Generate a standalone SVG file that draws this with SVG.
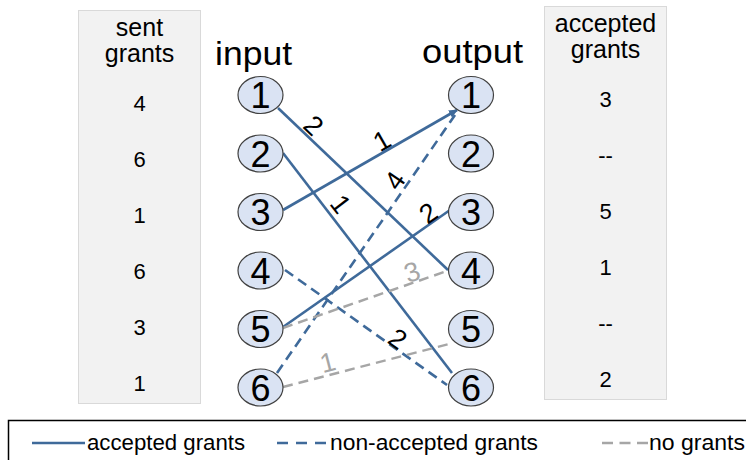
<svg xmlns="http://www.w3.org/2000/svg" width="746" height="460" viewBox="0 0 746 460">
<style>
.t{font-family:"Liberation Sans",Arial,sans-serif;fill:#000}
.panel{fill:#f2f2f2;stroke:#d9d9d9;stroke-width:1}
.node{fill:#dae3f3;stroke:#404040;stroke-width:1.2}
.num{font-size:36px;text-anchor:middle}
.pv{font-size:22px;text-anchor:middle}
.ph{font-size:25px;text-anchor:middle}
.acc{stroke:#3f6a9a;stroke-width:2.6;fill:none}
.non{stroke:#3f6a9a;stroke-width:2.6;fill:none;stroke-dasharray:10 6}
.no{stroke:#a6a6a6;stroke-width:2.4;fill:none;stroke-dasharray:10 6}
.lbl{font-size:27px;text-anchor:middle}
.lblg{font-size:27px;text-anchor:middle;fill:#a6a6a6}
.leg{font-size:22px}
</style>
<defs>
<marker id="arr" markerUnits="userSpaceOnUse" markerWidth="10" markerHeight="8" refX="8" refY="4" orient="auto">
<path d="M0,0 L9,4 L0,8 z" fill="#3f6a9a"/>
</marker>
</defs>

<g id="sent-panel">
<rect class="panel" x="78.5" y="10.5" width="122" height="393"/>
<text class="t ph" x="139.5" y="36">sent</text>
<text class="t ph" x="139.5" y="62">grants</text>
<text class="t pv" x="139.5" y="111">4</text>
<text class="t pv" x="139.5" y="167">6</text>
<text class="t pv" x="139.5" y="223">1</text>
<text class="t pv" x="139.5" y="279">6</text>
<text class="t pv" x="139.5" y="335">3</text>
<text class="t pv" x="139.5" y="391">1</text>
</g>

<g id="accepted-panel">
<rect class="panel" x="544.5" y="6.5" width="122" height="393"/>
<text class="t ph" x="605.5" y="32">accepted</text>
<text class="t ph" x="605.5" y="58">grants</text>
<text class="t pv" x="605.5" y="107">3</text>
<text class="t pv" x="605.5" y="163">--</text>
<text class="t pv" x="605.5" y="219">5</text>
<text class="t pv" x="605.5" y="275">1</text>
<text class="t pv" x="605.5" y="331">--</text>
<text class="t pv" x="605.5" y="387">2</text>
</g>

<text class="t" x="215" y="65" font-size="33" textLength="77" lengthAdjust="spacingAndGlyphs">input</text>
<text class="t" x="422" y="63" font-size="33" textLength="101" lengthAdjust="spacingAndGlyphs">output</text>

<g id="connectors">
<line class="acc" x1="278" y1="108" x2="448" y2="270"/>
<line class="acc" x1="283" y1="153" x2="452" y2="373"/>
<line class="acc" x1="283" y1="210" x2="457" y2="110" marker-end="url(#arr)"/>
<line class="acc" x1="283" y1="327" x2="450" y2="210"/>
<line class="non" x1="277" y1="373" x2="455" y2="115"/>
<line class="non" x1="285" y1="270" x2="447" y2="385"/>
<line class="no" x1="283" y1="328" x2="450" y2="270"/>
<line class="no" x1="283" y1="387" x2="453" y2="343"/>
<text class="t lbl" transform="translate(305.4,134.1) rotate(43.6)" y="-2.5">2</text>
<text class="t lbl" transform="translate(387.3,150.1) rotate(-29.9)" y="-1.6">1</text>
<text class="t lbl" transform="translate(329,213) rotate(52.5)" y="-5.6">1</text>
<text class="t lbl" transform="translate(405,187.6) rotate(-55.4)" y="-3.1">4</text>
<text class="t lbl" transform="translate(434.1,221.1) rotate(-35)" y="-0.6">2</text>
<text class="t lblg" transform="translate(415.4,282) rotate(-19.2)" y="-1.2">3</text>
<text class="t lbl" transform="translate(392.4,346.3) rotate(35.4)" y="0">2</text>
<text class="t lblg" transform="translate(330.8,374.6) rotate(-14.5)" y="-3.3">1</text>
</g>

<g id="in1"><ellipse class="node" cx="260.5" cy="95" rx="22.5" ry="18.5"/><text class="t num" x="260.5" y="108">1</text></g>
<g id="in2"><ellipse class="node" cx="260.5" cy="153.5" rx="22.5" ry="18.5"/><text class="t num" x="260.5" y="166.5">2</text></g>
<g id="in3"><ellipse class="node" cx="260.5" cy="212" rx="22.5" ry="18.5"/><text class="t num" x="260.5" y="225">3</text></g>
<g id="in4"><ellipse class="node" cx="260.5" cy="270.5" rx="22.5" ry="18.5"/><text class="t num" x="260.5" y="283.5">4</text></g>
<g id="in5"><ellipse class="node" cx="260.5" cy="329" rx="22.5" ry="18.5"/><text class="t num" x="260.5" y="342">5</text></g>
<g id="in6"><ellipse class="node" cx="260.5" cy="387.5" rx="22.5" ry="18.5"/><text class="t num" x="260.5" y="400.5">6</text></g>

<g id="out1"><ellipse class="node" cx="471" cy="95" rx="22.5" ry="18.5"/><text class="t num" x="471" y="108">1</text></g>
<g id="out2"><ellipse class="node" cx="471" cy="153.5" rx="22.5" ry="18.5"/><text class="t num" x="471" y="166.5">2</text></g>
<g id="out3"><ellipse class="node" cx="471" cy="212" rx="22.5" ry="18.5"/><text class="t num" x="471" y="225">3</text></g>
<g id="out4"><ellipse class="node" cx="471" cy="270.5" rx="22.5" ry="18.5"/><text class="t num" x="471" y="283.5">4</text></g>
<g id="out5"><ellipse class="node" cx="471" cy="329" rx="22.5" ry="18.5"/><text class="t num" x="471" y="342">5</text></g>
<g id="out6"><ellipse class="node" cx="471" cy="387.5" rx="22.5" ry="18.5"/><text class="t num" x="471" y="400.5">6</text></g>

<g id="legend">
<rect x="8.5" y="420.5" width="760" height="60" fill="#fff" stroke="#000" stroke-width="1.5"/>
<line class="acc" x1="32" y1="443" x2="85" y2="443"/>
<text class="t leg" x="87" y="450" textLength="158" lengthAdjust="spacingAndGlyphs">accepted grants</text>
<line x1="277" y1="443" x2="328" y2="443" stroke="#3f6a9a" stroke-width="2.6" stroke-dasharray="11 8"/>
<text class="t leg" x="330" y="450" textLength="208" lengthAdjust="spacingAndGlyphs">non-accepted grants</text>
<line x1="602" y1="443" x2="648" y2="443" stroke="#a6a6a6" stroke-width="2.4" stroke-dasharray="11 6.5"/>
<text class="t leg" x="649" y="450" textLength="96" lengthAdjust="spacingAndGlyphs">no grants</text>
</g>
</svg>
